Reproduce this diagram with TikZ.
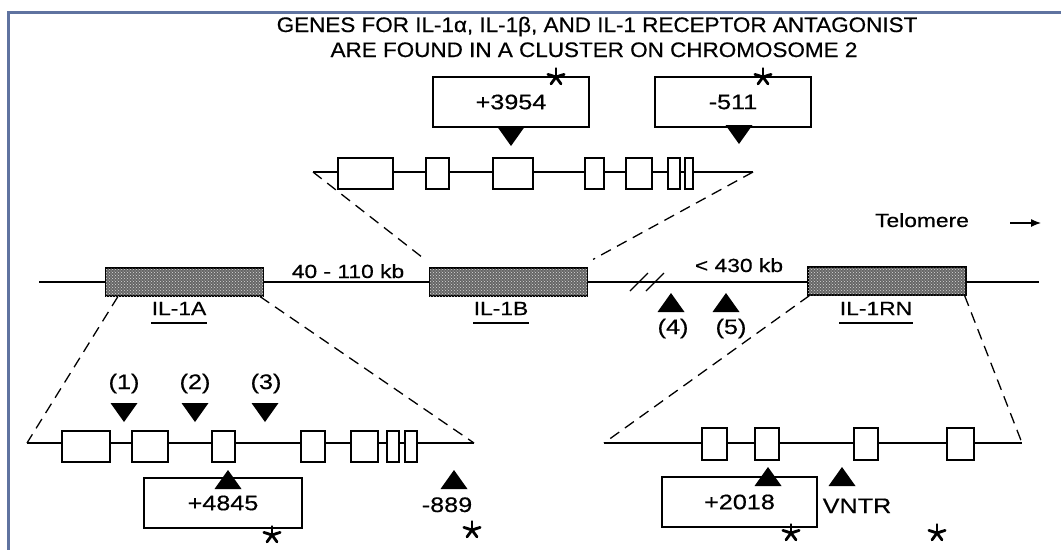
\documentclass[tikz,border=0pt]{standalone}
\usepackage{fontspec}
\setmainfont{Liberation Sans}
\newfontfamily\titlefont[FakeStretch=1.07, FakeBold=0.5]{Liberation Sans}
\newfontfamily\labelfont[FakeStretch=1.2, FakeBold=0.5]{Liberation Sans}
\usepackage{tikz}
\usetikzlibrary{arrows.meta}
\usetikzlibrary{patterns}
\definecolor{framecol}{RGB}{95,115,160}

\begin{document}
\begin{tikzpicture}[x=1pt, y=-1pt, >={Latex[length=10pt, width=8pt]}, line width=1.3pt,
  gene/.style={draw, fill=black!60, postaction={pattern=crosshatch dots, pattern color=white!85!black},
    minimum width=158pt, minimum height=28pt, inner sep=0pt},
  exon/.style={draw, fill=white, line width=1.3pt},
  callout/.style={draw, line width=1.8pt, fill=white, minimum width=156pt, minimum height=50pt,
    font=\labelfont\fontsize{21}{24}\selectfont},
  title/.style={font=\titlefont\fontsize{21}{24}\selectfont, inner sep=0pt, anchor=base},
  lbl/.style={font=\labelfont\fontsize{21}{24}\selectfont, inner sep=0pt, anchor=base},
  small/.style={font=\labelfont\fontsize{19}{22}\selectfont, inner sep=0pt, anchor=base},
  zoomline/.style={dash pattern=on 11pt off 7pt, line width=1.3pt},
  downmark/.pic={\fill (0,0) -- (-13.5,-19) -- (13.5,-19) -- cycle;},
  upmark/.pic={\fill (0,0) -- (-13.5,19) -- (13.5,19) -- cycle;},
  starmark/.pic={\foreach \a in {-90,-18,54,126,198} \draw[line width=2.8pt, line cap=round] (0,0) -- (\a:8.5);}]
  \useasboundingbox (0,0) rectangle (1061,550);
  \draw[framecol, line width=3pt] (1061,12) -- (8,12) -- (8,550);

  % titolo
  \node[title] (t1) at (597,32) {GENES FOR IL-1α, IL-1β, AND IL-1 RECEPTOR ANTAGONIST};
  \node[title] (t2) at (594,57) {ARE FOUND IN A CLUSTER ON CHROMOSOME 2};

  % cromosoma
  \coordinate (chrL) at (39,282);
  \coordinate (chrR) at (1039,282);
  \draw[line width=1.5pt] (chrL) -- (chrR);
  \draw[line width=1.3pt] (630,291) -- (648,273);
  \draw[line width=1.3pt] (646,291) -- (664,273);

  % righe degli esoni
  \coordinate (upL) at (313,172);
  \coordinate (upR) at (753,172);
  \coordinate (loAL) at (27,443);
  \coordinate (loAR) at (474,443);
  \coordinate (loRL) at (604,443);
  \coordinate (loRR) at (1022,443);
  \draw[line width=1.4pt] (upL) -- (upR);
  \draw[line width=1.4pt] (loAL) -- (loAR);
  \draw[line width=1.4pt] (loRL) -- (loRR);
  \foreach \a/\b in {338/393, 426/449, 493/533, 585/604, 626/652, 668/680, 685/693}
    \draw[exon] (\a,158) rectangle (\b,189);
  \foreach \a/\b in {62/110, 132/168, 212/235, 301/325, 351/378, 387/399, 405/417}
    \draw[exon] (\a,431) rectangle (\b,462);
  \foreach \a/\b in {702/727, 755/779, 854/878, 947/974}
    \draw[exon] (\a,428) rectangle (\b,460);

  % geni
  \node[gene] (gA) at (184.5,282) {};
  \node[gene] (gB) at (508.5,282) {};
  \node[gene] (gRN) at (887,281) {};

  \draw[zoomline] (upL) -- ([xshift=-4pt, yshift=8pt]gB.north west);
  \draw[zoomline] (upR) -- ([xshift=5pt, yshift=8pt]gB.north east);
  \draw[zoomline] ([xshift=13pt]gA.south west) -- (loAL);
  \draw[zoomline] ([xshift=-4pt]gA.south east) -- (loAR);
  \draw[zoomline] ([xshift=2pt]gRN.south west) -- (loRL);
  \draw[zoomline] ([xshift=-2pt]gRN.south east) -- (loRR);

  \node[small] (lA) at (179,315) {IL-1A};
  \node[small] (lB) at (501,315) {IL-1B};
  \node[small] (lRN) at (876,315) {IL-1RN};
  \foreach \n in {lA, lB, lRN}
    \draw[line width=1.4pt] ([yshift=-8pt]\n.base west) -- ([yshift=-8pt]\n.base east);

  \node[small] (kb1) at (348,278) {40 - 110 kb};
  \node[small] (kb2) at (739,272) {< 430 kb};
  \node[small] (tel) at (922,227) {Telomere};
  \coordinate (telA) at (1010,223);
  \coordinate (telB) at (1041,223);
  \draw[->, line width=1.2pt] (telA) -- (telB);

  % riquadri dei polimorfismi
  \node[callout] (c3954) at (511,102) {+3954};
  \node[callout] (c511) at (733,102) {-511};
  \node[callout, minimum width=158pt] (c4845) at (223,503) {+4845};
  \node[callout, minimum width=155pt] (c2018) at (739.5,502) {+2018};

  \pic at (511,146) {downmark};
  \pic at (739,144) {downmark};
  \pic at (124,422) {downmark};
  \pic at (195,422) {downmark};
  \pic at (265,422) {downmark};
  \pic at (228,470) {upmark};
  \pic at (454,470) {upmark};
  \pic at (768,467) {upmark};
  \pic at (842,467) {upmark};
  \pic at (671,293) {upmark};
  \pic at (726,293) {upmark};

  \node[lbl] (p1) at (124,389) {(1)};
  \node[lbl] (p2) at (195,389) {(2)};
  \node[lbl] (p3) at (266,389) {(3)};
  \node[lbl] (p4) at (673,334) {(4)};
  \node[lbl] (p5) at (731,334) {(5)};
  \node[lbl] (m889) at (447,512) {-889};
  \node[lbl] (vntr) at (857,513) {VNTR};

  \foreach \p in {(556,77), (763,77), (272,535), (472,530), (791,533), (937,533)}
    \pic at \p {starmark};
\end{tikzpicture}
\end{document}
